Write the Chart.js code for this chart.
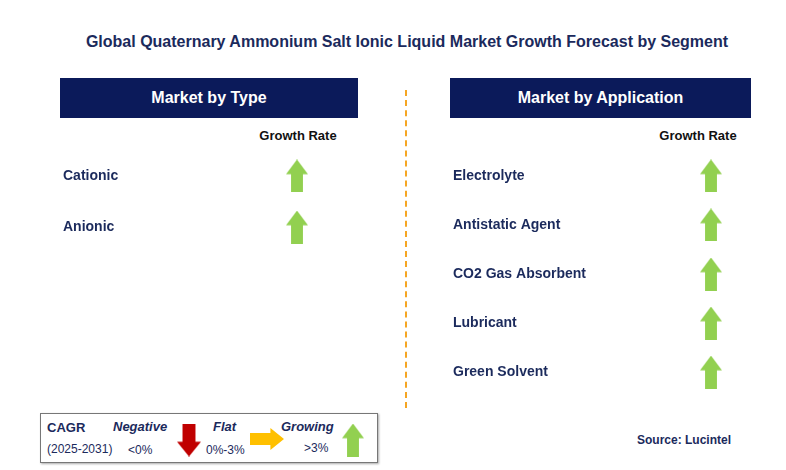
<!DOCTYPE html>
<html><head><meta charset="utf-8">
<script src="https://cdn.jsdelivr.net/npm/chart.js@4/dist/chart.umd.min.js"></script>
<style>
body{margin:0;width:786px;height:470px;background:#fff;position:relative;font-family:Arial,"Liberation Sans",sans-serif;overflow:hidden}
.abs{position:absolute}
.t{color:#1B2A5C;font-weight:bold}
.hdr{background:#0B1A5A;color:#fff;font-size:16px;font-weight:bold;text-align:center;line-height:40px;height:40px}
</style></head><body>
<div class="abs t" style="left:0;width:814px;top:33px;text-align:center;font-size:16px">Global Quaternary Ammonium Salt Ionic Liquid Market Growth Forecast by Segment</div>
<div class="abs hdr" style="left:60px;width:298px;top:78px">Market by Type</div>
<div class="abs hdr" style="left:450px;width:301px;top:78px">Market by Application</div>
<div class="abs" style="left:405px;top:90px;height:318px;border-left:2px dashed #F5A623"></div>
<div class="abs t" style="left:248px;width:100px;top:128px;text-align:center;font-size:13px;color:#111">Growth Rate</div>
<div class="abs t" style="left:648px;width:100px;top:128px;text-align:center;font-size:13px;color:#111">Growth Rate</div>
<canvas id="c1" class="abs" style="left:63px;top:142px" width="273" height="119"></canvas>
<canvas id="c2" class="abs" style="left:453px;top:143px" width="321" height="262"></canvas>
<div class="abs" style="left:40px;top:413px;width:336px;height:48px;border:1px solid #777;box-shadow:1px 1px 2px #aaa"></div>
<div class="abs t" style="left:47px;top:420px;font-size:13px">CAGR</div>
<div class="abs" style="left:47px;top:442px;font-size:12px;color:#1B2A5C">(2025-2031)</div>
<div class="abs t" style="left:113px;top:419px;font-size:13px;font-style:italic">Negative</div>
<div class="abs" style="left:128px;top:443px;font-size:12px;color:#1B2A5C">&lt;0%</div>
<div class="abs t" style="left:213px;top:419px;font-size:13px;font-style:italic">Flat</div>
<div class="abs" style="left:206px;top:443px;font-size:12px;color:#1B2A5C">0%-3%</div>
<div class="abs t" style="left:281px;top:419px;font-size:13px;font-style:italic">Growing</div>
<div class="abs" style="left:304px;top:441px;font-size:12px;color:#1B2A5C">&gt;3%</div>
<canvas id="l1" class="abs" style="left:176px;top:423px" width="26" height="34"></canvas>
<canvas id="l2" class="abs" style="left:249px;top:427px" width="36" height="24"></canvas>
<canvas id="l3" class="abs" style="left:340px;top:423px" width="26" height="34"></canvas>
<div class="abs t" style="left:637px;top:433px;font-size:12px">Source: Lucintel</div>
<script>
const typeCategories=['Cationic','Anionic'];
const typeGrowth=['Growing','Growing'];
const appCategories=['Electrolyte','Antistatic Agent','CO2 Gas Absorbent','Lubricant','Green Solvent'];
const appGrowth=['Growing','Growing','Growing','Growing','Growing'];
const growthLevels=['Growing'];

function arrow(dir,color,w,h){
  const c=document.createElement('canvas');c.width=w;c.height=h;const g=c.getContext('2d');g.fillStyle=color;g.beginPath();
  if(dir==='up'){const hh=h*0.45,sw=w*0.27;g.moveTo(w/2,0);g.lineTo(w,hh);g.lineTo(w/2+sw,hh);g.lineTo(w/2+sw,h);g.lineTo(w/2-sw,h);g.lineTo(w/2-sw,hh);g.lineTo(0,hh);}
  else if(dir==='down'){const hh=h*0.55,sw=w*0.27;g.moveTo(w/2,h);g.lineTo(w,hh);g.lineTo(w/2+sw,hh);g.lineTo(w/2+sw,0);g.lineTo(w/2-sw,0);g.lineTo(w/2-sw,hh);g.lineTo(0,hh);}
  else {const hw=w*0.6,sh=h*0.27;g.moveTo(w,h/2);g.lineTo(hw,0);g.lineTo(hw,h/2-sh);g.lineTo(0,h/2-sh);g.lineTo(0,h/2+sh);g.lineTo(hw,h/2+sh);g.lineTo(hw,h);}
  g.closePath();g.fill();return c;
}
const styles={Growing:arrow('up','#92D050',22,33),Flat:arrow('right','#FFC000',34,22),Negative:arrow('down','#C00000',24,33)};
[['l1','Negative'],['l2','Flat'],['l3','Growing']].forEach(([id,k])=>{const c=document.getElementById(id);c.getContext('2d').drawImage(styles[k],(c.width-styles[k].width)/2,(c.height-styles[k].height)/2);});

function panel(id,cats,growth){
  new Chart(document.getElementById(id),{type:'scatter',
    data:{datasets:[{data:cats.map((c,i)=>({x:growth[i],y:c})),pointStyle:growth.map(g=>styles[g]),pointRadius:14,clip:false}]},
    options:{responsive:false,devicePixelRatio:1,animation:false,layout:{padding:0,autoPadding:false},
      plugins:{legend:{display:false},tooltip:{enabled:false}},
      scales:{x:{type:'category',labels:growthLevels,offset:true,display:false},
        y:{type:'category',labels:cats,offset:true,grid:{display:false},border:{display:false},
          afterFit:s=>{s.width=195;},
          ticks:{crossAlign:'far',padding:0,color:'#1B2A5C',font:{family:'Arial',size:14,weight:'bold'}}}}}});
}
panel('c1',typeCategories,typeGrowth);
panel('c2',appCategories,appGrowth);
</script></body></html>
